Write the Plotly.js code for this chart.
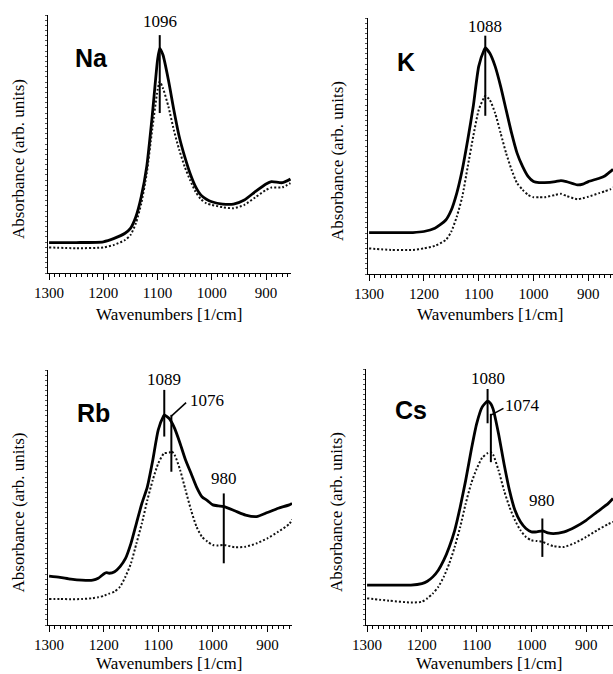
<!DOCTYPE html>
<html>
<head>
<meta charset="utf-8">
<script src="https://cdn.plot.ly/plotly-3.0.1.min.js"></script>
<style>html,body{margin:0;padding:0;background:#fff;}#chart{width:613px;height:674px;}</style>
</head>
<body>
<div id="chart"></div>
<script>
// ---- Data (absorbance in arbitrary units, 0-100 of axis height) ----
const naWave = [1300,1250,1200,1180,1160,1150,1140,1130,1120,1110,1100,1096,1090,1080,1070,1060,1050,1040,1030,1020,1010,1000,980,960,940,920,900,890,870,855];
const naSolid = [11.8,11.8,12.1,13.4,15.4,17.3,21.8,29.6,41.2,60.6,82.6,87.1,84.5,74.8,63.2,52.8,45.1,38.6,33.5,30.2,28.6,27.6,26.7,26.7,28.3,31.5,34.5,35.4,35.0,36.4];
const naDotted = [9.9,9.6,9.9,10.9,12.8,14.7,19.3,27.0,38.6,55.4,70.9,74.2,71.6,64.5,55.4,47.7,41.2,36.0,31.5,28.6,27.0,26.4,25.5,25.1,26.4,29.3,32.2,33.1,33.2,34.8];

const kWave = [1300,1260,1220,1200,1180,1160,1150,1140,1130,1120,1110,1100,1090,1088,1080,1070,1060,1050,1040,1030,1020,1010,1000,990,980,960,950,940,920,910,900,880,870,860,855];
const kSolid = [16.2,16.2,16.2,16.6,17.9,21.1,25.0,31.6,40.7,52.4,65.4,81.1,87.6,88.3,86.3,81.1,73.3,64.1,55.0,47.2,42.0,38.1,36.1,35.7,35.7,36.1,36.5,36.1,34.8,35.1,36.1,37.4,38.3,40.0,40.9];
const kDotted = [10.0,9.4,9.4,10.0,11.0,13.3,16.6,22.4,30.2,42.0,53.7,64.1,69.1,69.6,68.1,62.8,55.0,47.2,40.7,35.5,32.9,30.9,30.0,30.0,30.0,30.9,31.3,30.5,29.2,29.6,30.2,31.6,32.3,33.1,33.9];

const rbWave = [1300,1280,1260,1240,1220,1210,1200,1195,1190,1180,1170,1160,1150,1140,1130,1120,1110,1100,1090,1089,1080,1076,1070,1060,1050,1040,1030,1020,1010,1000,990,980,960,940,920,900,880,860,855];
const rbSolid = [19.2,18.7,18.0,17.6,17.6,18.3,20.0,20.5,20.3,20.9,22.9,26.1,32.0,39.9,47.7,54.2,64.7,76.5,82.1,82.4,81.0,79.7,77.1,71.2,64.7,59.5,54.2,50.3,48.8,47.1,46.7,46.4,44.8,43.1,42.5,44.1,45.8,47.1,47.7];
const rbDotted = [10.2,10.2,10.1,10.2,10.5,10.9,11.4,11.9,12.3,13.1,15.0,19.0,24.2,32.0,39.9,49.0,56.9,63.4,67.3,67.4,67.6,68.2,66.7,60.8,52.9,45.1,38.6,34.6,32.7,31.4,31.2,31.4,30.5,30.7,32.0,34.0,36.6,39.6,41.4];

const csWave = [1300,1260,1220,1200,1190,1180,1170,1160,1150,1140,1130,1120,1110,1100,1090,1080,1074,1070,1060,1050,1040,1030,1020,1010,1000,990,980,970,960,940,920,900,880,860,851];
const csSolid = [15.6,15.6,15.6,16.2,17.1,18.8,21.4,25.3,30.5,37.0,46.1,56.5,68.2,78.6,85.1,87.4,86.4,84.4,74.7,63.0,52.6,44.8,40.3,37.7,36.4,36.4,36.8,36.0,35.7,36.4,38.3,40.9,44.2,47.4,49.4];
const csDotted = [10.4,9.5,8.8,9.1,10.4,12.3,14.9,18.8,24.0,30.5,38.3,47.4,55.2,61.0,65.3,67.1,67.5,66.6,60.4,52.6,46.1,40.9,37.0,34.4,33.1,32.8,32.5,31.6,30.8,30.5,32.1,34.4,37.0,39.4,40.3];

const panelNames = ['Na','K','Rb','Cs'];

// Peak markers: wavenumber, top/bottom of marker bar, label position
const markAxis   = ['1','2','3','3','3','4','4','4'];
const markWave   = [1096,1088,1089,1076,980,1080,1074,980];
const markTop    = [92.2,93.1,92.2,82.4,51.6,92.2,82.5,41.6];
const markBottom = [62.0,61.8,73.9,60.1,24.2,78.8,63.6,26.6];
const markText   = ['1096','1088','1089','1076','980','1080','1074','980'];
const markTextX  = [1096,1088,1089,1010,980,1080,1017,980];
const markTextY  = [97.3,96.7,96.3,88.2,57.5,96.1,85.9,48.7];
// leader lines for offset labels (index into markers above): from marker top to label
const leaderIdx  = [3,6];
const leaderEndX = [1049,1051];
const leaderEndY = [87.2,84.6];

// ---- Layout geometry ----
const W = 613, H = 674;
const px = v => v / W, py = v => 1 - v / H;
const panels = [
  {x0:48,  x1:291, y0:15,  y1:273, range:[1302,854], titleGap:41},
  {x0:368, x1:613, y0:18,  y1:274, range:[1302,855], titleGap:40},
  {x0:48,  x1:292, y0:370, y1:625, range:[1302,855], titleGap:38},
  {x0:366, x1:613, y0:369, y1:625, range:[1302,851], titleGap:38}
];
const waves = [naWave,kWave,rbWave,csWave];
const solids = [naSolid,kSolid,rbSolid,csSolid];
const dotteds = [naDotted,kDotted,rbDotted,csDotted];
const nameLabelX = [1222,1233,1218,1220];
const nameLabelY = [83.3,83.0,83.0,83.8];

const serif = '"Liberation Serif", "Times New Roman", Times, serif';
const sans = '"Liberation Sans", Arial, Helvetica, sans-serif';
const data = [];
const layout = {
  width: W, height: H,
  margin: {l:0, r:0, t:0, b:0},
  paper_bgcolor: '#fff', plot_bgcolor: '#fff',
  showlegend: false,
  font: {family: serif, color: '#000'},
  annotations: [], shapes: []
};

panels.forEach((p, i) => {
  const n = i + 1;
  const xa = 'x' + (n === 1 ? '' : n), ya = 'y' + (n === 1 ? '' : n);
  data.push({x: waves[i], y: solids[i], xaxis: xa, yaxis: ya, type: 'scatter', mode: 'lines',
             line: {color: '#000', width: 2.8, shape: 'spline', smoothing: 0.6}, hoverinfo: 'skip'});
  data.push({x: waves[i], y: dotteds[i], xaxis: xa, yaxis: ya, type: 'scatter', mode: 'lines',
             line: {color: '#111', width: 2, dash: '2px,2px', shape: 'spline', smoothing: 0.6}, hoverinfo: 'skip'});
  const xk = 'xaxis' + (n === 1 ? '' : n), yk = 'yaxis' + (n === 1 ? '' : n);
  layout[xk] = {
    domain: [px(p.x0), px(p.x1)], range: p.range, anchor: ya,
    showgrid: false, zeroline: false, showline: true, linecolor: '#000', linewidth: 1.2,
    ticks: 'outside', ticklen: 6, tickwidth: 1, tickcolor: '#000', dtick: 100, tick0: 1300,
    ticklabelstandoff: 0,
    minor: {dtick: 10, ticks: 'outside', ticklen: 3, tickcolor: '#000', showgrid: false},
    tickfont: {family: serif, size: 15, color: '#000'}, fixedrange: true
  };
  layout[yk] = {
    domain: [py(p.y1), py(p.y0)], range: [0, 100], anchor: xa,
    showgrid: false, zeroline: false, showline: true, linecolor: '#000', linewidth: 1,
    ticks: 'outside', ticklen: 2, tickwidth: 1, tickcolor: '#555', dtick: 2, showticklabels: false,
    fixedrange: true
  };
  // axis titles
  layout.annotations.push({xref: 'paper', yref: 'paper', x: px((p.x0 + p.x1) / 2 - 1), y: py(p.y1 + p.titleGap),
    text: 'Wavenumbers [1/cm]', showarrow: false, font: {family: serif, size: 17}, xanchor: 'center', yanchor: 'middle'});
  layout.annotations.push({xref: 'paper', yref: 'paper', x: px(p.x0 - 30), y: py((p.y0 + p.y1) / 2 + 15),
    text: 'Absorbance (arb. units)', showarrow: false, textangle: -90, font: {family: serif, size: 17}, xanchor: 'center', yanchor: 'middle'});
  // panel name
  layout.annotations.push({xref: xa, yref: ya, x: nameLabelX[i], y: nameLabelY[i], text: '<b>' + panelNames[i] + '</b>',
    showarrow: false, font: {family: sans, size: 25}, xanchor: 'center', yanchor: 'middle'});
});

markWave.forEach((w, k) => {
  const n = markAxis[k];
  const xa = 'x' + (n === '1' ? '' : n), ya = 'y' + (n === '1' ? '' : n);
  layout.shapes.push({type: 'line', xref: xa, yref: ya, x0: w, x1: w, y0: markBottom[k], y1: markTop[k],
    line: {color: '#000', width: 2}});
  layout.annotations.push({xref: xa, yref: ya, x: markTextX[k], y: markTextY[k], text: markText[k], showarrow: false,
    font: {family: serif, size: 17}, xanchor: 'center', yanchor: 'middle'});
});
leaderIdx.forEach((k, j) => {
  const n = markAxis[k];
  const xa = 'x' + n, ya = 'y' + n;
  layout.shapes.push({type: 'line', xref: xa, yref: ya, x0: markWave[k], y0: markTop[k] - 0.5, x1: leaderEndX[j], y1: leaderEndY[j],
    line: {color: '#000', width: 1.5}});
});

Plotly.newPlot('chart', data, layout, {staticPlot: true, displayModeBar: false});
</script>
</body>
</html>
